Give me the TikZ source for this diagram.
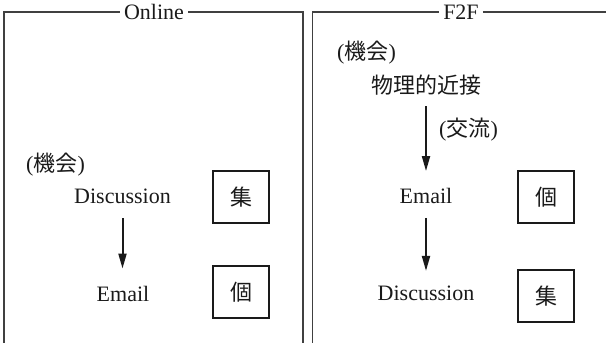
\documentclass[tikz,border=0pt]{standalone}
\usepackage{fontspec}
\setmainfont{Liberation Serif}
\newfontfamily\cjk{Noto Sans CJK JP}
\usetikzlibrary{arrows.meta}
\definecolor{framegray}{HTML}{404040}
\definecolor{ink}{HTML}{1A1A1A}
\tikzset{
  frameline/.style={draw=framegray, line width=1.5pt},
  titlenode/.style={inner xsep=4pt, inner ysep=0pt, text=ink},
  label/.style={inner sep=0pt, text=ink},
  kindbox/.style={draw=ink, line width=1.2pt, minimum width=56pt, minimum height=52pt, inner sep=0pt, text=ink},
  flowarrow/.style={draw=ink, line width=2pt, -{Triangle[length=15pt,width=8pt]}},
}
\begin{document}
\begin{tikzpicture}[x=1pt,y=-1pt,font=\fontsize{22}{26}\selectfont]
\useasboundingbox (0,0) rectangle (606,343);
% Online panel
\node[titlenode] (ton) at (154,12) {Online};
\coordinate (onbl) at (4,346);
\coordinate (onbr) at (303,346);
\draw[frameline] (onbl) |- (ton.west);
\draw[frameline] (ton.east) -| (onbr);
% F2F panel
\node[titlenode] (tf) at (461,12) {F2F};
\coordinate (fbl) at (312.7,346);
\coordinate (fre) at (610,12);
\draw[frameline] (fbl) |- (tf.west);
\draw[frameline] (tf.east) -- (fre);
% Online contents
\node[label, anchor=west] (opp1) at (26,165) {({\cjk 機会})};
\node[label] (d1) at (122.5,196.5) {Discussion};
\node[label] (e1) at (123,293.5) {Email};
\node[kindbox] (b1) at (241,197) {\cjk 集};
\node[kindbox] (b2) at (241,292) {\cjk 個};
\draw[flowarrow, shorten <=14pt, shorten >=17pt] (d1.south) -- (d1.south |- e1.north);
% F2F contents
\node[label, anchor=west] (opp2) at (337,53) {({\cjk 機会})};
\node[label] (prox) at (426,85) {\cjk 物理的近接};
\node[label, anchor=west] (exch) at (439,130) {({\cjk 交流})};
\node[label] (e2) at (426,196) {Email};
\node[label] (d2) at (426,293.5) {Discussion};
\node[kindbox] (b3) at (546,197) {\cjk 個};
\node[kindbox] (b4) at (546,296) {\cjk 集};
\draw[flowarrow, shorten <=11pt, shorten >=17pt] (prox.south) -- (prox.south |- e2.north);
\draw[flowarrow, shorten <=14pt, shorten >=15pt] (e2.south) -- (e2.south |- d2.north);
\end{tikzpicture}
\end{document}
